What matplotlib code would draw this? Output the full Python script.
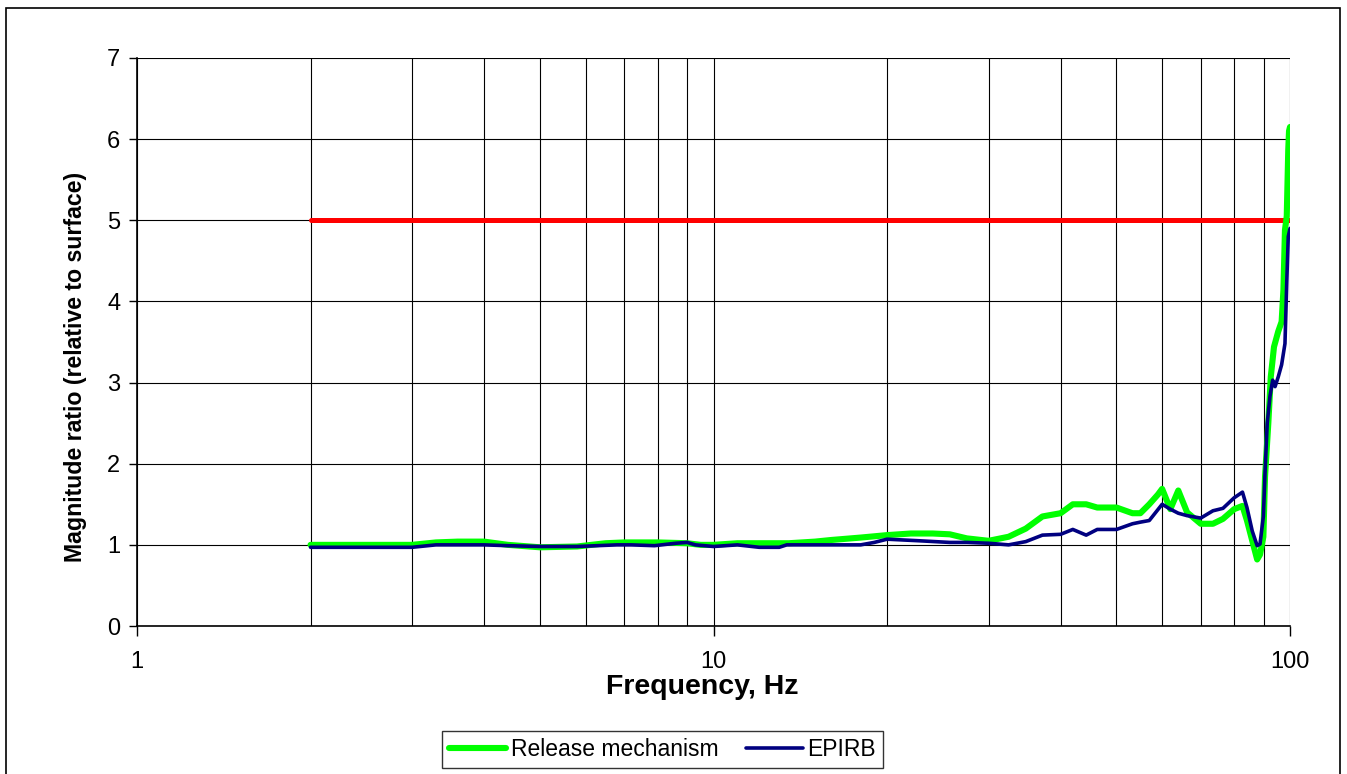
import numpy as np
import matplotlib
matplotlib.use("Agg")
import matplotlib.pyplot as plt
from matplotlib.patches import Rectangle
from matplotlib.ticker import LogLocator, FixedLocator, NullFormatter

# ------------------ Data ------------------

release_freq = [2.0, 3.0, 3.3, 3.6, 4.0, 4.4, 5.0, 5.8, 6.5, 7.0, 8.0, 9.0, 9.5,
                10.0, 11.0, 12.0, 13.0, 13.5, 15.0, 16.0, 18.0, 20.0, 22.0, 24.0,
                25.7, 27.5, 30.0, 32.5, 34.8, 37.2, 40.0, 42.0, 44.3, 46.3, 50.0,
                53.3, 55.0, 57.0, 59.0, 60.0, 62.0, 64.0, 66.3, 70.0, 73.5, 76.5,
                80.0, 82.7, 84.2, 86.0, 87.7, 88.7, 89.9, 90.5, 91.7, 92.6, 93.8,
                95.4, 96.7, 97.4, 98.0, 98.7, 99.3, 99.6, 100.0]
release_mag = [1.00, 1.00, 1.03, 1.04, 1.04, 1.00, 0.97, 0.98, 1.02, 1.03, 1.03, 1.02, 1.00,
               1.00, 1.02, 1.02, 1.02, 1.02, 1.04, 1.06, 1.09, 1.12, 1.14, 1.14,
               1.13, 1.08, 1.05, 1.10, 1.20, 1.35, 1.39, 1.50, 1.50, 1.46, 1.46,
               1.39, 1.39, 1.50, 1.62, 1.69, 1.44, 1.67, 1.40, 1.26, 1.26, 1.32,
               1.44, 1.48, 1.30, 1.05, 0.82, 0.88, 1.10, 1.84, 2.50, 3.07, 3.44,
               3.63, 3.75, 4.14, 4.88, 5.05, 5.87, 6.10, 6.15]

epirb_freq = [2.0, 3.0, 3.3, 4.0, 4.4, 5.0, 5.8, 6.8, 7.2, 7.9, 8.6, 9.0, 9.3,
              10.0, 11.0, 12.0, 13.0, 13.4, 16.0, 18.0, 19.0, 20.0, 22.8, 25.7,
              27.5, 30.0, 32.5, 34.8, 37.2, 40.0, 42.0, 44.3, 46.3, 50.0, 53.3,
              55.0, 57.0, 60.0, 62.0, 64.0, 66.3, 70.0, 73.5, 76.5, 80.0, 82.7,
              84.2, 86.0, 87.7, 88.7, 89.9, 90.5, 91.3, 92.3, 93.3, 94.2, 95.4,
              96.7, 98.0, 98.7, 99.3, 100.0]
epirb_mag = [0.97, 0.97, 1.00, 1.00, 0.99, 0.98, 0.98, 1.00, 1.00, 0.99, 1.02, 1.03, 1.00,
             0.98, 1.00, 0.97, 0.97, 1.00, 1.00, 1.00, 1.03, 1.07, 1.05, 1.03,
             1.03, 1.02, 1.00, 1.04, 1.12, 1.13, 1.19, 1.12, 1.19, 1.19, 1.26,
             1.28, 1.30, 1.50, 1.44, 1.39, 1.36, 1.33, 1.42, 1.45, 1.58, 1.65,
             1.46, 1.17, 0.99, 1.01, 1.35, 1.89, 2.50, 2.83, 3.03, 2.95, 3.07,
             3.22, 3.48, 4.23, 4.80, 4.90]

limit_freq = [2.0, 100.0]
limit_mag = [5.0, 5.0]

# ------------------ Plot ------------------

plt.rcParams['font.family'] = ['Liberation Sans', 'DejaVu Sans']

fig = plt.figure(figsize=(13.47, 7.74), dpi=100)
ax = fig.add_axes([0.1017, 0.1912, 0.856, 0.7339])

ax.plot(limit_freq, limit_mag, color="#ff0000", lw=3.6, solid_capstyle="round", zorder=3)
ax.plot(release_freq, release_mag, color="#00ff00", lw=4.4, solid_joinstyle="round",
        solid_capstyle="round", label="Release mechanism", zorder=4)
ax.plot(epirb_freq, epirb_mag, color="#000080", lw=2.6, solid_joinstyle="round",
        solid_capstyle="round", label="EPIRB", zorder=5)

ax.set_xscale("log")
ax.set_xlim(1, 100)
ax.set_ylim(0, 7)

ax.xaxis.set_major_locator(FixedLocator([1, 10, 100]))
ax.xaxis.set_minor_locator(LogLocator(base=10, subs=np.arange(2, 10)))
ax.xaxis.set_minor_formatter(NullFormatter())
ax.set_xticklabels(["1", "10", "100"])
ax.set_yticks(range(0, 8))

ax.tick_params(axis="x", which="major", direction="out", length=7, width=1, pad=11, labelsize=17)
ax.tick_params(axis="x", which="minor", length=0)
ax.tick_params(axis="y", direction="out", length=6, width=1, pad=6, labelsize=17)

ax.grid(True, axis="x", which="both", color="black", lw=0.8)
ax.grid(True, axis="y", which="major", color="black", lw=0.8)
ax.set_axisbelow(True)

for side in ["top", "right"]:
    ax.spines[side].set_visible(False)
for side in ["left", "bottom"]:
    ax.spines[side].set_color("black")
    ax.spines[side].set_linewidth(1.2)

ax.set_xlabel("Frequency, Hz", fontsize=20.5, fontweight="bold", labelpad=1)
ax.xaxis.set_label_coords(0.49, -0.084)
ax.set_ylabel("Magnitude ratio (relative to surface)", fontsize=16.7, fontweight="bold")
ax.yaxis.set_label_coords(-0.043, 0.456)

leg = fig.legend(loc="center", bbox_to_anchor=(0.4918, 0.0317), ncol=2, fontsize=16.5,
                 frameon=True, fancybox=False, handlelength=2.5, handletextpad=0.2,
                 columnspacing=1.2, borderpad=0.3, borderaxespad=0)
leg.get_frame().set_edgecolor("black")
leg.get_frame().set_linewidth(1.0)

# outer chart frame
fig.patches.append(Rectangle((0.0045, -0.02), 0.9903, 1.0097, transform=fig.transFigure,
                             fill=False, edgecolor="black", lw=1.2))

fig.savefig("out.png", dpi=100, facecolor="white")
plt.close(fig)
